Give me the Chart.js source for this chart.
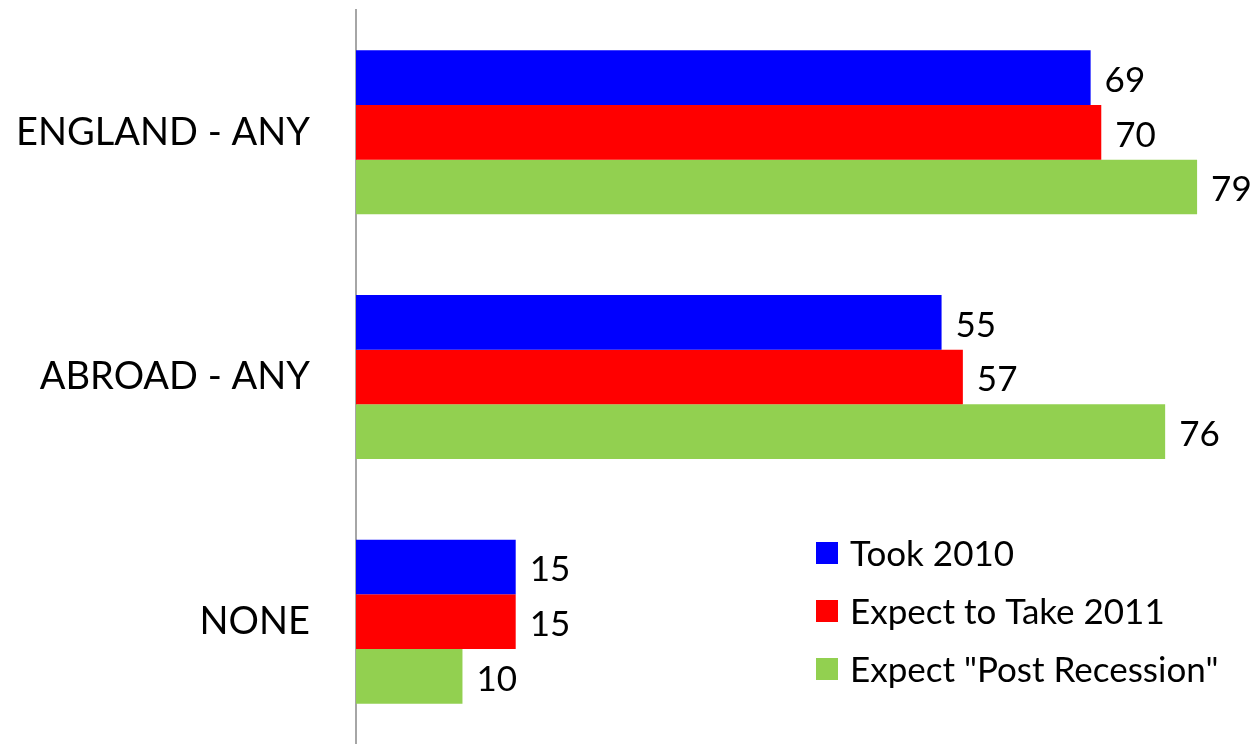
<!DOCTYPE html>
<html>
<head>
<meta charset="utf-8">
<script src="https://cdn.jsdelivr.net/npm/chart.js@4"></script>
<style>
  html, body { margin: 0; padding: 0; background: #ffffff; }
  #wrap { width: 1251px; height: 744px; position: relative; }
</style>
</head>
<body>
<div id="wrap"><canvas id="holidayChart"></canvas></div>
<script>
// Categories and series.
var categories = ["ENGLAND - ANY", "ABROAD - ANY", "NONE"];
var seriesNames = ["Took 2010", "Expect to Take 2011", "Expect \"Post Recession\""];
var took2010 = [69, 55, 15];
var expect2011 = [70, 57, 15];
var postRecession = [79, 76, 10];
var seriesColors = ["#0000ff", "#ff0000", "#92d050"];

var FONT = "Lato, 'Open Sans', sans-serif";

/**
 * Writes each bar's value just past its end.
 */
var valueLabels = {
    id: "valueLabels",
    afterDatasetsDraw: function (chart) {
        var ctx = chart.ctx;
        ctx.save();
        ctx.font = "35px " + FONT;
        ctx.fillStyle = "#000000";
        ctx.textAlign = "left";
        ctx.textBaseline = "middle";
        chart.data.datasets.forEach(function (ds, i) {
            var meta = chart.getDatasetMeta(i);
            meta.data.forEach(function (bar, j) {
                ctx.fillText(String(ds.data[j]), bar.x + 14, bar.y + 3);
            });
        });
        ctx.restore();
    }
};

/**
 * Legend drawn inside the plot, lower right, like the original.
 */
var insideLegend = {
    id: "insideLegend",
    afterDraw: function (chart) {
        var ctx = chart.ctx;
        var x = 816;
        var y = 553;
        ctx.save();
        ctx.font = "35px " + FONT;
        ctx.textAlign = "left";
        ctx.textBaseline = "middle";
        chart.data.datasets.forEach(function (ds) {
            ctx.fillStyle = ds.backgroundColor;
            ctx.fillRect(x, y - 11, 22, 22);
            ctx.fillStyle = "#000000";
            ctx.fillText(ds.label, x + 34, y + 2);
            y += 58;
        });
        ctx.restore();
    }
};

document.addEventListener("DOMContentLoaded", function () {
    var ctx = document.getElementById("holidayChart").getContext("2d");
    var values = [took2010, expect2011, postRecession];

    new Chart(ctx, {
        type: "bar",
        data: {
            labels: categories,
            datasets: seriesNames.map(function (name, i) {
                return {
                    label: name,
                    data: values[i],
                    backgroundColor: seriesColors[i],
                    borderWidth: 0,
                    categoryPercentage: 0.67,
                    barPercentage: 1.0
                };
            })
        },
        options: {
            indexAxis: "y",
            responsive: true,
            maintainAspectRatio: false,
            animation: false,
            layout: { padding: { top: 10, right: 6, bottom: 0, left: 0 } },
            scales: {
                x: {
                    display: false,
                    min: 0,
                    max: 83.5
                },
                y: {
                    // fixed axis width; drop the vertical padding the labels ask for
                    afterFit: function (scale) {
                        scale.width = 356;
                        scale.paddingTop = 0;
                        scale.paddingBottom = 0;
                    },
                    grid: { display: true, color: "rgba(0,0,0,0)", drawTicks: false },
                    border: { display: true, color: "#a6a6a6", width: 2 },
                    ticks: {
                        color: "#000000",
                        padding: 46,
                        font: { family: FONT, size: 38 }
                    }
                }
            },
            plugins: {
                legend: { display: false },
                tooltip: { enabled: false }
            }
        },
        plugins: [valueLabels, insideLegend]
    });
});
</script>
</body>
</html>
